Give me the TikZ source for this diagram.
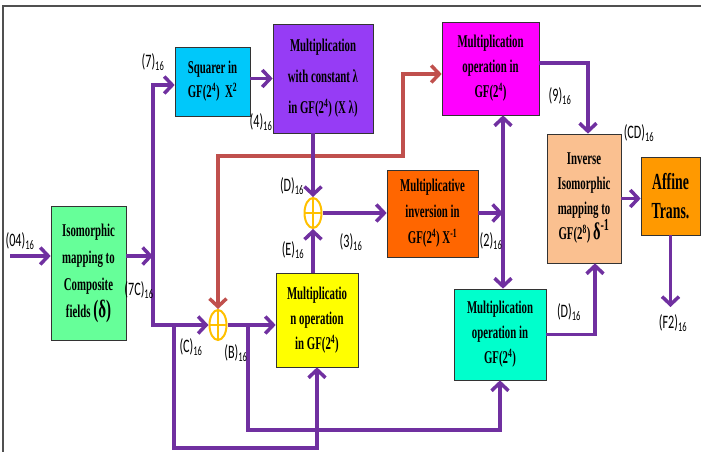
\documentclass[tikz,border=0pt]{standalone}
\usepackage{fontspec}
\usetikzlibrary{arrows.meta,shapes.geometric}
\newfontfamily\boxfont[FakeStretch=0.6]{Liberation Serif}
\newfontfamily\lblfont[FakeStretch=0.64]{Carlito}
\definecolor{flowpurple}{RGB}{112,48,160}
\definecolor{flowred}{RGB}{192,80,77}
\definecolor{xorgold}{RGB}{255,192,0}
\definecolor{isogreen}{RGB}{102,255,153}
\definecolor{sqcyan}{RGB}{0,200,250}
\definecolor{constpurple}{RGB}{150,60,245}
\definecolor{magmult}{RGB}{255,0,255}
\definecolor{invorange}{RGB}{255,102,0}
\definecolor{iisopeach}{RGB}{250,192,144}
\definecolor{afforange}{RGB}{255,153,0}
\definecolor{multteal}{RGB}{0,255,204}
\definecolor{ylwmult}{RGB}{255,255,0}
\definecolor{framegray}{RGB}{80,80,80}
\tikzstyle{block}=[draw=black!80, line width=0.7pt, align=center, inner sep=1pt, font=\boxfont\bfseries\fontsize{18}{25}\selectfont]
\tikzstyle{lbl}=[inner sep=0pt, font=\lblfont\fontsize{19}{19}\selectfont]
\tikzstyle{flow}=[draw=flowpurple, line width=3.5pt, -{Straight Barb[length=8pt,width=17pt]}]
\tikzstyle{redflow}=[draw=flowred, line width=3.5pt, {Straight Barb[length=8pt,width=17pt]}-{Straight Barb[length=8pt,width=17pt]}]
\tikzstyle{xorop}=[ellipse, draw=xorgold, line width=2pt, minimum width=17pt, minimum height=30pt, inner sep=0pt,
  path picture={\draw[xorgold, line width=2pt] (path picture bounding box.north) -- (path picture bounding box.south)
  (path picture bounding box.west) -- (path picture bounding box.east);}]

\begin{document}
\begin{tikzpicture}[x=1pt, y=-1pt]
\useasboundingbox (0,0) rectangle (701,452);
\draw[framegray, line width=1.8pt] (3,452) -- (3,6) -- (701,6);

% blocks
\node (iso) [block, fill=isogreen, minimum width=75pt, minimum height=134pt, font=\boxfont\bfseries\fontsize{18}{27}\selectfont] at (88.5,273)
  {Isomorphic\\mapping to\\Composite\\fields {\fontsize{25}{25}\selectfont(δ)}};
\node (sq) [block, fill=sqcyan, minimum width=75pt, minimum height=69pt, font=\boxfont\bfseries\fontsize{18}{24}\selectfont] at (212.5,81.5)
  {Squarer in\\GF(2\textsuperscript{4})~~X\textsuperscript{2}};
\node (mconst) [block, fill=constpurple, minimum width=100pt, minimum height=109pt, font=\boxfont\bfseries\fontsize{18}{31}\selectfont] at (323,78.5)
  {Multiplication\\with constant λ\\in GF(2\textsuperscript{4}) (X λ)};
\node (mag) [block, fill=magmult, minimum width=97pt, minimum height=93pt] at (490.5,68.5)
  {Multiplication\\operation in\\GF(2\textsuperscript{4})};
\node (inv) [block, fill=invorange, minimum width=91pt, minimum height=87pt, font=\boxfont\bfseries\fontsize{18}{26}\selectfont] at (432.5,213.5)
  {Multiplicative\\inversion in\\GF(2\textsuperscript{4}) X\textsuperscript{-1}};
\node (iiso) [block, fill=iisopeach, minimum width=74pt, minimum height=129pt] at (584,198.5)
  {Inverse\\Isomorphic\\mapping to\\GF(2\textsuperscript{8}) {\fontsize{24}{24}\selectfont δ\textsuperscript{-1}}};
\node (aff) [block, fill=afforange, minimum width=59pt, minimum height=78pt, font=\boxfont\bfseries\fontsize{23}{29}\selectfont] at (670.5,196)
  {Affine\\Trans.};
\node (ylw) [block, fill=ylwmult, minimum width=82pt, minimum height=94pt] at (317,320)
  {Multiplicatio\\n operation\\in GF(2\textsuperscript{4})};
\node (teal) [block, fill=multteal, minimum width=92pt, minimum height=91pt] at (500,334.5)
  {Multiplication\\operation in\\GF(2\textsuperscript{4})};

% xor gates
\node (xor1) [xorop] at (313,213) {};
\node (xor2) [xorop] at (218,325) {};

% junction points
\coordinate (inpt) at (10,256);
\coordinate (split) at (153,256);
\coordinate (cbr) at (174,325);
\coordinate (cbot) at (174,448);
\coordinate (bbr) at (248,325);
\coordinate (bbot) at (248,430);
\coordinate (rcorner) at (403,156);
\coordinate (jn) at (503,213);
\coordinate (fout) at (669,307);

% connectors
\draw[flow] (inpt) -- (iso.west |- inpt);
\draw[flow] (iso.east |- split) -- (split);
\draw[flow] (split) |- (sq.west |- 0,85);
\draw[flow] (split) |- (xor2.west);
\draw[flow] (cbr) -- (cbot) -| (ylw.south);
\draw[flow] (sq.east |- mconst.west) -- (mconst.west);
\draw[redflow] (xor2.north) |- (rcorner) |- (mag.west |- 0,74);
\draw[flow] (mconst.south -| xor1) -- (xor1.north);
\draw[flow] (ylw.north -| xor1) -- (xor1.south);
\draw[flow] (xor1.east) -- (inv.west |- xor1);
\draw[flow] (inv.east |- jn) -- (jn);
\draw[flow] (jn) -- (mag.south -| jn);
\draw[flow] (jn) -- (teal.north -| jn);
\draw[flow] (xor2.east) -- (ylw.west |- xor2);
\draw[flow] (bbr) -- (bbot) -| (teal.south);
\draw[flow] (mag.east |- 0,63) -| ([xshift=4pt]iiso.north);
\draw[flow] (teal.east) -| ([xshift=11pt]iiso.south);
\draw[flow] (iiso.east) -- (aff.west |- iiso.east);
\draw[flow] (aff.south) -- (aff.south |- fout);

% labels
\node (l04) [lbl] at (20,241) {(04)\textsubscript{16}};
\node (l7) [lbl] at (153,62) {(7)\textsubscript{16}};
\node (l7c) [lbl] at (139,290) {(7C)\textsubscript{16}};
\node (l4) [lbl] at (261,122) {(4)\textsubscript{16}};
\node (ld) [lbl] at (292,186) {(D)\textsubscript{16}};
\node (le) [lbl] at (293,250) {(E)\textsubscript{16}};
\node (l3) [lbl] at (351,242) {(3)\textsubscript{16}};
\node (l2) [lbl] at (491,241) {(2)\textsubscript{16}};
\node (lc) [lbl] at (191,347) {(C)\textsubscript{16}};
\node (lb) [lbl] at (236,353) {(B)\textsubscript{16}};
\node (l9) [lbl] at (560,96) {(9)\textsubscript{16}};
\node (lcd) [lbl] at (639,133) {(CD)\textsubscript{16}};
\node (ld2) [lbl] at (569,312) {(D)\textsubscript{16}};
\node (lf2) [lbl] at (673,323) {(F2)\textsubscript{16}};
\end{tikzpicture}
\end{document}
